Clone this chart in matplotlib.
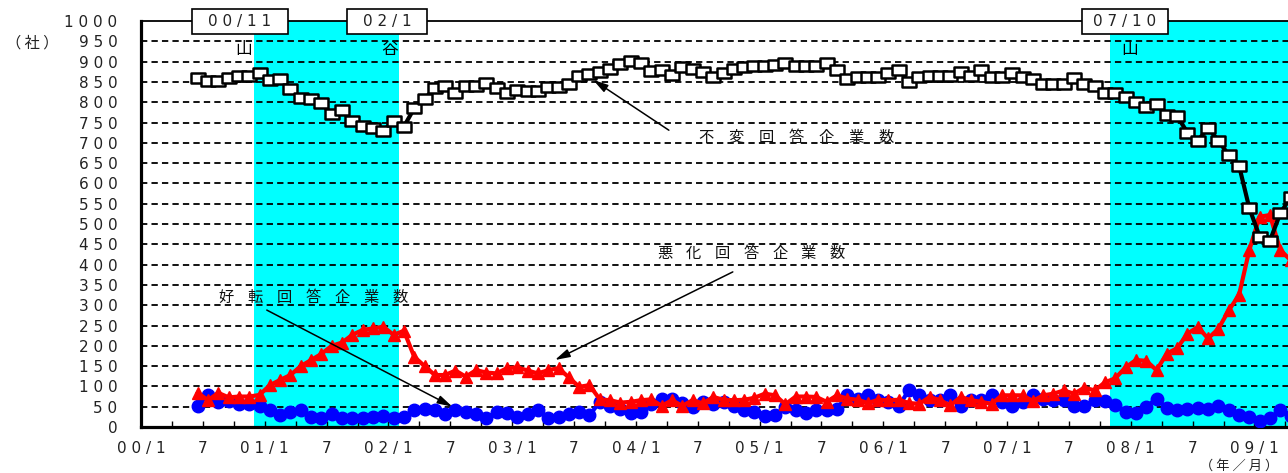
import numpy as np
import pandas as pd
import matplotlib
matplotlib.use("Agg")
import matplotlib.pyplot as plt
from matplotlib.patches import Rectangle
from matplotlib.path import Path

plt.rcParams['font.family'] = ['DejaVu Sans', 'Noto Sans CJK JP']

# monthly data, 2000/6 .. 2009/4 (number of companies)
unchanged = [860, 852, 853, 860, 865, 865, 871, 855, 856, 832,
             810, 808, 797, 770, 781, 754, 741, 736, 730, 754,
             740, 785, 808, 835, 840, 822, 840, 840, 848, 836,
             822, 830, 828, 828, 838, 838, 845, 865, 870, 875,
             883, 894, 901, 896, 877, 879, 867, 887, 883, 875,
             863, 873, 883, 887, 889, 889, 892, 897, 889, 889,
             889, 897, 879, 856, 863, 863, 863, 871, 879, 850,
             863, 865, 865, 865, 875, 865, 879, 863, 863, 873,
             863, 856, 846, 846, 846, 859, 846, 840, 823, 823,
             814, 801, 789, 796, 768, 766, 725, 705, 737, 705,
             670, 644, 539, 469, 459, 526, 566]
worsened = [84, 66, 84, 73, 75, 75, 79, 103, 116, 128,
            150, 165, 180, 200, 208, 227, 239, 243, 247, 227,
            237, 173, 150, 128, 128, 139, 124, 140, 134, 132,
            145, 147, 139, 132, 140, 145, 122, 99, 103, 68,
            66, 60, 62, 66, 68, 52, 66, 52, 66, 58,
            74, 67, 66, 67, 72, 82, 78, 56, 75, 75,
            74, 62, 78, 70, 67, 59, 67, 66, 67, 59,
            57, 74, 66, 53, 74, 66, 62, 57, 78, 78,
            78, 64, 78, 82, 90, 82, 97, 90, 110, 120,
            147, 165, 163, 140, 181, 194, 230, 246, 218, 242,
            287, 325, 436, 518, 522, 436, 411]
improved = [51, 80, 62, 64, 57, 57, 51, 43, 29, 37,
            41, 25, 23, 31, 21, 21, 23, 25, 26, 21,
            25, 41, 45, 43, 33, 43, 37, 33, 21, 37,
            34, 25, 33, 41, 23, 25, 33, 37, 29, 62,
            51, 45, 34, 37, 57, 69, 68, 60, 50, 62,
            57, 62, 51, 41, 37, 26, 29, 49, 41, 34,
            41, 41, 45, 78, 70, 78, 66, 62, 51, 92,
            78, 66, 67, 78, 51, 66, 66, 78, 62, 51,
            62, 78, 70, 66, 66, 51, 51, 67, 64, 55,
            38, 34, 50, 69, 47, 41, 45, 46, 45, 51,
            42, 30, 25, 16, 22, 42, 28]

months = pd.period_range('2000-06', periods=len(unchanged), freq='M')
# business cycle turning points (peak / trough)
turn_labels = ['00/11', '02/1', '07/10']
turn_marks = ['山', '谷', '山']
recessions = [('2000-12', '2002-01'), ('2007-11', '2009-12')]


def month_pos(p):
    return (p.year - 2000) * 12 + p.month - 1


def spaced(s):
    return ' '.join(s)


x = np.array([month_pos(p) for p in months]) + 0.5

fig = plt.figure(figsize=(12.88, 4.73), dpi=100)
ax = fig.add_axes([141 / 1288, 1 - 427 / 473, 1 - 141 / 1288, 406 / 473])
px = 10.31  # pixels per month

for a, b in recessions:
    ax.axvspan(month_pos(pd.Period(a, 'M')), month_pos(pd.Period(b, 'M')) + 1,
               color='#00FFFF', lw=0, zorder=0)

for v in range(50, 1000, 50):
    ax.axhline(v, color='black', lw=1.3, ls=(0, (3.5, 2.3)), zorder=1)

rect = Path([(-1, -0.72), (1, -0.72), (1, 0.72), (-1, 0.72), (-1, -0.72)],
            [Path.MOVETO, Path.LINETO, Path.LINETO, Path.LINETO, Path.CLOSEPOLY])

ax.plot(x, improved, color='#0000FF', lw=3, marker='o', ms=9, zorder=3)
ax.plot(x, worsened, color='#FF0000', lw=3, marker='^', ms=9, zorder=4)
ax.plot(x, unchanged, color='black', lw=3, marker=rect, ms=9.5,
        mfc='white', mec='black', mew=1.8, zorder=5)

ax.set_xlim(0, (1288 - 141) / px)
ax.set_ylim(0, 1000)

# axes
ax.spines['right'].set_visible(False)
ax.spines['left'].set_linewidth(2.3)
ax.spines['bottom'].set_linewidth(2.3)
ax.spines['top'].set_linewidth(1.3)

yt = list(range(0, 1001, 50))
ax.set_yticks(yt)
ax.set_yticklabels([spaced(str(v)) for v in yt], fontsize=11, color='#222222')
ax.tick_params(axis='y', length=0, pad=17)

xt = list(range(0, 112, 3))
xl = []
for m in xt:
    if m % 12 == 0:
        xl.append(spaced('%02d/1' % (m // 12)))
    elif m % 12 == 6:
        xl.append('7')
    else:
        xl.append('')
ax.set_xticks(xt)
ax.set_xticklabels(xl, fontsize=11, color='#222222')
ax.tick_params(axis='x', direction='in', length=4.5, width=1, pad=10)

# turning point boxes
boxes = [(4.95, 14.26), (19.98, 27.74), (91.27, 99.6)]
for (x0, x1), lab in zip(boxes, turn_labels):
    ax.add_patch(Rectangle((x0, 968), x1 - x0, 61.6, fc='white', ec='black',
                           lw=1.2, clip_on=False, zorder=10))
    ax.text((x0 + x1) / 2, 999, spaced(lab), ha='center', va='center',
            fontsize=11, color='#222222', zorder=11, clip_on=False)

for xm, mk in zip([9.9, 24.15, 95.9], turn_marks):
    ax.text(xm, 931, mk, ha='center', va='center', fontsize=12, zorder=6,
            family=['Noto Sans CJK JP'])


def char_label(text, x0, y, pitch):
    for k, ch in enumerate(text):
        ax.text(x0 + k * pitch, y, ch, ha='center', va='center', fontsize=11,
                family=['Noto Sans CJK JP'], color='#111111', zorder=6)


char_label('不変回答企業数', (706 - 141) / px, 714, 30 / px)
char_label('悪化回答企業数', (665 - 141) / px, 428, 28.7 / px)
char_label('好転回答企業数', (226 - 141) / px, 318, 29 / px)

arrow = dict(arrowstyle='-|>,head_length=0.9,head_width=0.25', color='black',
             lw=1.1, shrinkA=0, shrinkB=0)
ax.annotate('', xy=(43.85, 855), xytext=(51.2, 731), arrowprops=arrow, zorder=7)
ax.annotate('', xy=(40.15, 165), xytext=(57.4, 382), arrowprops=arrow, zorder=7)
ax.annotate('', xy=(30.2, 50), xytext=(12.2, 288), arrowprops=arrow, zorder=7)

fig.text(32 / 1288, 1 - 43 / 473, '（ 社 ）', ha='center', va='center',
         fontsize=11, family=['Noto Sans CJK JP'], color='#222222')
fig.text(1239 / 1288, 1 - 466 / 473, '（ 年 ／ 月 ）', ha='center', va='center',
         fontsize=9.5, family=['Noto Sans CJK JP'], color='#222222')

fig.savefig('out.png', dpi=100)
